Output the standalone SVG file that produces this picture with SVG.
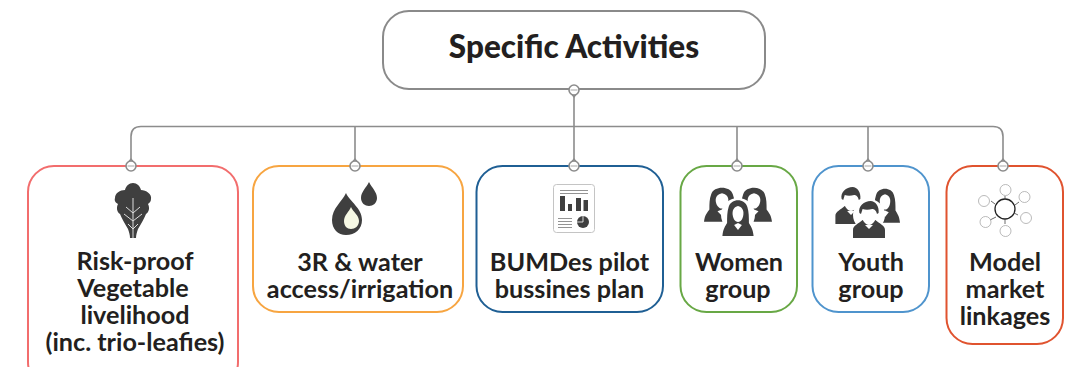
<svg xmlns="http://www.w3.org/2000/svg" width="1082" height="367" viewBox="0 0 1082 367">
<style>
.box{fill:#fff;stroke-width:2}
.t{font-family:"Lato","Open Sans","Liberation Sans",sans-serif;font-weight:700;font-size:25.200px;fill:#231f20;text-anchor:middle}
.r{font-size:31.500px;font-weight:900}
.h{fill:#fff;stroke:#8c8c8c;stroke-width:1.600}
.d{stroke:#b5b5b5;stroke-width:1.200}
.c{fill:none;stroke:#8c8c8c;stroke-width:1.600}
.i{fill:#3f3f3f}
.w{fill:none;stroke:#dcdcdc;stroke-width:1}
.g{fill:none;stroke:#a8a8a8;stroke-width:.8}
</style>
<defs>
<path id="tip" d="M-4.600 2.500L0 8L4.600 2.500Z" fill="#8c8c8c"/>
<path id="tipu" d="M-4.600-2.500L0-8L4.600-2.500Z" fill="#8c8c8c"/>
<g id="woman"><path class="i" d="M-20 24C-19 16-16 14-14 11C-14 5-14 0-12-5C-9-14 9-14 12-5C14 0 14 5 14 11C16 14 19 16 20 24Z"/><path d="M0-6C-5-5-7-2-7 1C-7 6-4 10 0 10C4 10 7 6 7 1C7-2 5-5 0-6Z" fill="#fff"/><path d="M-5 13L0 18L5 13L0 11Z" fill="#fff"/></g>
<g id="man"><path class="i" d="M-20 22V14C-20 9-13 8-8 4L8 4C13 8 20 9 20 14V22Z"/><path d="M-10-3C-10 3-5 9 0 9C5 9 10 3 10-3C10-9 5-11 0-11C-5-11-10-9-10-3Z" fill="#fff"/><path class="i" d="M-12-3C-14-10-6-15 2-15C8-15 13-10 12-3L10-2C9-6 6-7 4-7C0-6-5-6-8-7L-10-2Z"/><path d="M-5 9L0 13L5 9Z" fill="#fff"/></g>
</defs>
<g id="connectors">
<path class="c" d="M574 94V126.500M131 166V136.500Q131 126.500 141 126.500H993Q1003 126.500 1003 136.500V166M355 126.500V166M574 126.500V166M737 126.500V166M868 126.500V166"/>
</g>
<g id="root">
<rect class="box" x="383" y="11" width="382" height="78" rx="26" stroke="#8a8a8a"/>
<text class="t r" x="574" y="58">Specific Activities</text>
<use href="#tip" x="574" y="90"/><circle class="h" cx="574" cy="90" r="5"/><path class="d" d="M570.500 90H577.500"/>
</g>
<g id="node-vegetable">
<rect class="box" x="28" y="166" width="210" height="222" rx="26" stroke="#f26d6d"/>
<use href="#tipu" x="131" y="166"/><circle class="h" cx="131" cy="166" r="5"/><path class="d" d="M127.500 166H134.500"/>
<path class="i" d="M133 183C137 183 140 186 141 190C146 190 152 194 151 199C151 202 149 203 148 204C150 208 149 212 146 214C144 219 141 224 138 229C137 232 136 235 136 238H130C130 235 129 232 128 229C125 224 122 219 120 214C117 212 116 208 118 204C116 203 114 201 115 198C115 193 120 190 125 190C126 186 129 183 133 183Z"/>
<path class="w" d="M133 198V238M133 213L126 207M133 213L140 207M133 221L124 214M133 221L142 214M133 229L128 224M133 229L138 224"/>
<text class="t" x="135" y="270">Risk-proof</text><text class="t" x="133" y="296.500">Vegetable</text><text class="t" x="135" y="323.500">livelihood</text><text class="t" x="135" y="350.500">(inc. trio-leafies)</text>
</g>
<g id="node-water">
<rect class="box" x="253" y="166" width="210" height="146" rx="26" stroke="#f7a541"/>
<use href="#tipu" x="355" y="166"/><circle class="h" cx="355" cy="166" r="5"/><path class="d" d="M351.500 166H358.500"/>
<path class="i" d="M369 182C372 188 377 192 377 198C377 203 373 206 369 206C365 206 361 203 361 198C361 192 366 188 369 182Z"/>
<path class="i" d="M346 193C350 202 362 208 362 220C362 229 355 235 346 235C338 235 332 229 332 220C332 208 342 202 346 193Z"/>
<path d="M351 207C353 212 359 215 359 221C359 226 355 229 351 229C347 229 344 226 344 221C344 215 349 212 351 207Z" fill="#f6f8e4"/>
<text class="t" x="360" y="271">3R &amp; water</text><text class="t" x="360" y="298">access/irrigation</text>
</g>
<g id="node-bumdes">
<rect class="box" x="476.500" y="166" width="186.500" height="146" rx="26" stroke="#1f5f94"/>
<use href="#tipu" x="574" y="166"/><circle class="h" cx="574" cy="166" r="5"/><path class="d" d="M570.500 166H577.500"/>
<rect x="553.500" y="184.500" width="41" height="48" rx="3" fill="#fff" stroke="#c4c4c4"/>
<path class="c" style="stroke-width:.8;stroke:#777" d="M560 190.500H588M560 193.500H588M558 218.500H572M558 221.500H572M558 224.500H572M558 227.500H572"/>
<path class="i" d="M560 196H565V211H560ZM568 204H572V211H568ZM576 198H581V211H576ZM583.500 200H588V211H583.500Z"/>
<circle class="i" cx="583" cy="222" r="6"/><path d="M577 222H583V216" fill="none" stroke="#fff" stroke-width=".8"/>
<text class="t" x="569.500" y="271">BUMDes pilot</text><text class="t" x="569.500" y="298">bussines plan</text>
</g>
<g id="node-women">
<rect class="box" x="680.500" y="166" width="116.500" height="146" rx="26" stroke="#68a845"/>
<use href="#tipu" x="737" y="166"/><circle class="h" cx="737" cy="166" r="5"/><path class="d" d="M733.500 166H740.500"/>
<use href="#woman" transform="translate(722 199) scale(.9 .95)"/><use href="#woman" transform="translate(754 199) scale(.9 .95)"/>
<circle cx="738" cy="215" r="17" fill="#fff"/>
<use href="#woman" transform="translate(738 212) scale(.78 1)"/>
<text class="t" x="739" y="271">Women</text><text class="t" x="738" y="298">group</text>
</g>
<g id="node-youth">
<rect class="box" x="812.500" y="166" width="116.500" height="146" rx="26" stroke="#4f94cd"/>
<use href="#tipu" x="868" y="166"/><circle class="h" cx="868" cy="166" r="5"/><path class="d" d="M864.500 166H871.500"/>
<use href="#man" transform="translate(851 202) scale(.78 1)"/><use href="#woman" transform="translate(885 200) scale(.75 .95)"/>
<circle cx="869" cy="215" r="16" fill="#fff"/>
<use href="#man" transform="translate(869 216) scale(.8 1)"/>
<text class="t" x="871" y="271">Youth</text><text class="t" x="871" y="298">group</text>
</g>
<g id="node-market">
<rect class="box" x="946.500" y="166" width="116.500" height="178" rx="26" stroke="#e0532f"/>
<use href="#tipu" x="1003" y="166"/><circle class="h" cx="1003" cy="166" r="5"/><path class="d" d="M999.500 166H1006.500"/>
<circle cx="1005" cy="209" r="10" fill="#fff" stroke="#222" stroke-width="1.300"/>
<path d="M1005 199V196M1005 219V224M995 204L991 201M1015 205L1019 202M1014 213L1018 215M996 217L990 220" stroke="#444" stroke-width=".8"/>
<circle class="g" cx="1005.500" cy="190" r="5.500"/><circle class="g" cx="1024.500" cy="197" r="5.500"/><circle class="g" cx="1026" cy="218" r="5.500"/><circle class="g" cx="1005.500" cy="231" r="5.500"/><circle class="g" cx="985.500" cy="222" r="5.500"/><circle class="g" cx="984" cy="201" r="5.500"/>
<text class="t" x="1005" y="271">Model</text><text class="t" x="1005" y="297.500">market</text><text class="t" x="1005" y="324.500">linkages</text>
</g>
</svg>
